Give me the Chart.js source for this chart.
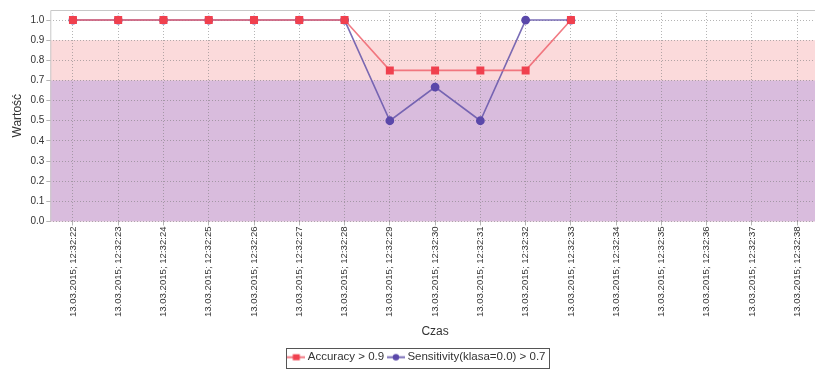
<!DOCTYPE html>
<html>
<head>
<meta charset="utf-8">
<script src="https://cdn.jsdelivr.net/npm/chart.js@4/dist/chart.umd.min.js"></script>
<style>
html,body{margin:0;padding:0;background:#fff;overflow:hidden;}
#wrap{width:826px;height:375px;position:relative;}
</style>
</head>
<body>
<div id="wrap"><canvas id="c"></canvas></div>
<script>
const categories = [
 '13.03.2015; 12:32:22','13.03.2015; 12:32:23','13.03.2015; 12:32:24','13.03.2015; 12:32:25',
 '13.03.2015; 12:32:26','13.03.2015; 12:32:27','13.03.2015; 12:32:28','13.03.2015; 12:32:29',
 '13.03.2015; 12:32:30','13.03.2015; 12:32:31','13.03.2015; 12:32:32','13.03.2015; 12:32:33',
 '13.03.2015; 12:32:34','13.03.2015; 12:32:35','13.03.2015; 12:32:36','13.03.2015; 12:32:37',
 '13.03.2015; 12:32:38'
];
const accuracy    = [1,1,1,1,1,1,1,0.75,0.75,0.75,0.75,1,null,null,null,null,null];
const sensitivity = [1,1,1,1,1,1,1,0.5,0.667,0.5,1,1,null,null,null,null,null];
const seriesNames = ['Accuracy > 0.9','Sensitivity(klasa=0.0) > 0.7'];
const thresholds  = [0.9, 0.7];
const yTicks      = [0,0.1,0.2,0.3,0.4,0.5,0.6,0.7,0.8,0.9,1.0];

const redLine = 'rgba(238,100,110,0.85)', redPt = '#f0404e';
const bluLine = 'rgba(100,85,170,0.85)', bluPt = '#5a48aa';

function legendIcon(lineCol, ptCol, shape){
  const c = document.createElement('canvas');
  c.width = 18; c.height = 9;
  const g = c.getContext('2d');
  g.strokeStyle = lineCol; g.lineWidth = 2;
  g.beginPath(); g.moveTo(0,4.5); g.lineTo(18,4.5); g.stroke();
  g.fillStyle = ptCol;
  if (shape === 'rect') g.fillRect(5.5,1.5,7,6);
  else { g.beginPath(); g.arc(9,4.5,3.2,0,Math.PI*2); g.fill(); }
  return c;
}
const icons = [legendIcon(redLine, redPt, 'rect'), legendIcon(bluLine, bluPt, 'circle')];

const bandsPlugin = {
  id:'bands',
  beforeDraw(chart){
    const {ctx, chartArea:a, scales:{y}} = chart;
    ctx.save();
    ctx.fillStyle = '#fbdadb';
    const y09 = y.getPixelForValue(thresholds[0]);
    ctx.fillRect(a.left, y09, a.right-a.left, a.bottom-y09);
    ctx.fillStyle = '#d9bcdd';
    const y07 = y.getPixelForValue(thresholds[1]);
    ctx.fillRect(a.left, y07, a.right-a.left, a.bottom-y07);
    ctx.restore();
  },
  afterDraw(chart){
    const {ctx, chartArea:a} = chart;
    ctx.save();
    ctx.strokeStyle = '#c8c8c8'; ctx.lineWidth = 1;
    ctx.beginPath();
    ctx.moveTo(a.left+0.5, a.bottom); ctx.lineTo(a.left+0.5, a.top+0.5); ctx.lineTo(a.right, a.top+0.5);
    ctx.stroke();
    const lg = chart.legend;
    if (lg && lg.legendHitBoxes && lg.legendHitBoxes.length){
      const hb = lg.legendHitBoxes;
      const x0 = hb[0].left - 5, x1 = hb[hb.length-1].left + hb[hb.length-1].width + 3;
      const y0 = hb[0].top - 4, y1 = hb[0].top + hb[0].height + 4;
      ctx.strokeStyle = '#555'; ctx.lineWidth = 1;
      ctx.strokeRect(Math.round(x0)+0.5, Math.round(y0)+0.5, Math.round(x1-x0), Math.round(y1-y0));
    }
    ctx.restore();
  }
};

new Chart(document.getElementById('c'), {
  type:'line',
  data:{
    labels:categories,
    datasets:[
      {label:seriesNames[0], data:accuracy, borderColor:redLine, backgroundColor:redPt,
       pointBackgroundColor:redPt, pointBorderColor:redPt, pointStyle:'rect', pointRadius:4.5,
       borderWidth:1.6, tension:0, spanGaps:false},
      {label:seriesNames[1], data:sensitivity, borderColor:bluLine, backgroundColor:bluPt,
       pointBackgroundColor:bluPt, pointBorderColor:bluPt, pointStyle:'circle', pointRadius:3.6,
       borderWidth:1.6, tension:0, spanGaps:false}
    ]
  },
  options:{
    responsive:true, maintainAspectRatio:false, animation:false,
    layout:{padding:{left:10,right:0,top:10,bottom:2}},
    plugins:{
      tooltip:{enabled:false},
      legend:{position:'bottom',
        labels:{usePointStyle:true, boxWidth:18, boxHeight:9, padding:6, color:'#333',
          font:{family:'Liberation Sans, Arial', size:11.5},
          generateLabels(chart){
            return chart.data.datasets.map((d,i)=>({text:d.label, pointStyle:icons[i], datasetIndex:i,
              fillStyle:d.borderColor, strokeStyle:d.borderColor, lineWidth:0, fontColor:'#333', hidden:false}));
          }}}
    },
    scales:{
      x:{offset:true,
        grid:{offset:false, color:'rgba(120,120,120,0.55)', tickLength:4, drawTicks:true},
        border:{display:false, dash:[1,2]},
        ticks:{minRotation:90, maxRotation:90, autoSkip:false, color:'#333', padding:1,
          font:{family:'Liberation Sans, Arial', size:9.6}},
        title:{display:true, text:'Czas', color:'#333', font:{family:'Liberation Sans, Arial', size:12}, padding:{top:6,bottom:7}}
      },
      y:{min:0, max:1.05,
        afterBuildTicks(s){ s.ticks = yTicks.map(v=>({value:v})); },
        grid:{color:'rgba(120,120,120,0.55)', tickLength:4},
        border:{display:false, dash:[1,2]},
        ticks:{color:'#333', padding:2, font:{family:'Liberation Sans, Arial', size:10},
          callback:(v)=>Number(v).toFixed(1)},
        title:{display:true, text:'Wartość', color:'#333', font:{family:'Liberation Sans, Arial', size:12}, padding:{top:0,bottom:4}}
      }
    }
  },
  plugins:[bandsPlugin]
});
</script>
</body>
</html>
